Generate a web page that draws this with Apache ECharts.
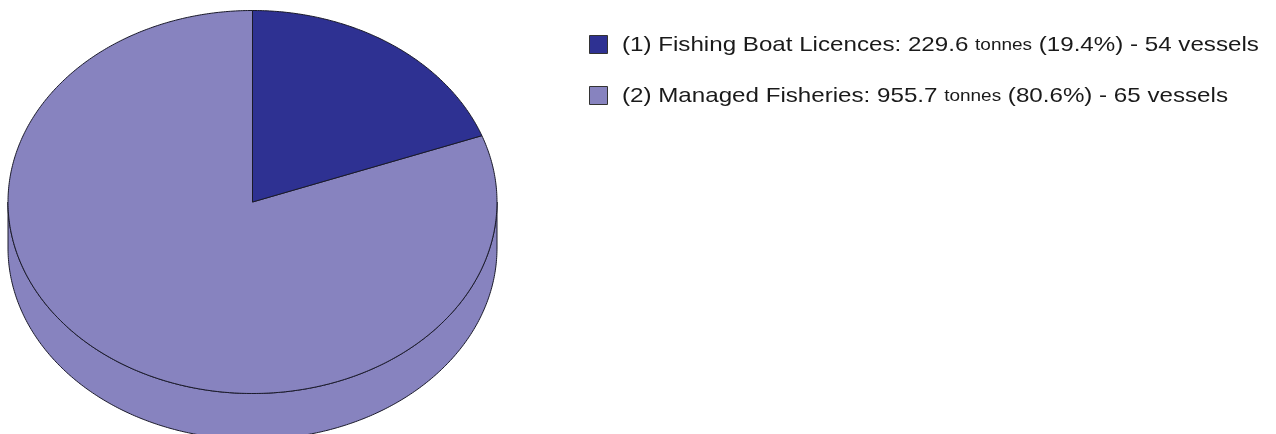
<!DOCTYPE html>
<html>
<head>
<meta charset="utf-8">
<script src="https://cdn.jsdelivr.net/npm/echarts@6/dist/echarts.min.js"></script>
<style>
html,body{margin:0;padding:0;background:#fff;}
#chart{width:1276px;height:434px;}
</style>
</head>
<body>
<div id="chart"></div>
<script>
const categories = ['(1) Fishing Boat Licences', '(2) Managed Fisheries'];
const tonnes = [229.6, 955.7];
const percents = [19.4, 80.6];
const vessels = [54, 65];
const colors = ['#2E3192', '#8783BF'];

const total = tonnes.reduce((a, b) => a + b, 0);
const starts = [];
let acc = 0;
tonnes.forEach(v => { starts.push(acc / total * Math.PI * 2); acc += v; });

const CX = 252.5, CY = 202, RX = 244.5, RY = 191.5, DEPTH = 46;
function pt(t, dy) { return [CX + RX * Math.sin(t), CY - RY * Math.cos(t) + (dy || 0)]; }
function arcPts(a, b, dy) {
  const n = Math.max(2, Math.ceil(Math.abs(b - a) / 0.01));
  const out = [];
  for (let k = 0; k <= n; k++) out.push(pt(a + (b - a) * k / n, dy));
  return out;
}

function makeSeries(i) {
  return {
    type: 'custom',
    name: categories[i],
    coordinateSystem: 'none',
    itemStyle: { color: colors[i], borderColor: '#222', borderWidth: 1 },
    data: [[tonnes[i]]],
    renderItem: function (params, api) {
      const a = starts[i];
      const b = a + tonnes[i] / total * Math.PI * 2;
      const children = [];
      const style = { fill: colors[i], stroke: '#1a1a2a', lineWidth: 1 };
      const sa = Math.max(a, Math.PI / 2), sb = Math.min(b, Math.PI * 1.5);
      if (sb > sa) {
        const top = arcPts(sa, sb, 0);
        const bot = arcPts(sb, sa, DEPTH);
        children.push({ type: 'polygon', shape: { points: top.concat(bot) }, style: style });
      }
      const face = [[CX, CY]].concat(arcPts(a, b, 0));
      children.push({ type: 'polygon', shape: { points: face }, style: style });
      return { type: 'group', children: children };
    }
  };
}

const FONT = 'Liberation Sans, Arial, Helvetica, sans-serif';
const legendEls = [];
categories.forEach(function (name, i) {
  const yc = 45 + i * 51;
  legendEls.push({
    type: 'rect',
    shape: { x: 589.5, y: yc - 9.5, width: 18, height: 18 },
    style: { fill: colors[i], stroke: '#333', lineWidth: 1 }
  });
  legendEls.push({
    type: 'text',
    x: 622, y: yc,
    scaleX: 1.15,
    style: {
      text: '{m|' + name + ': ' + tonnes[i] + ' }{s|tonnes}{m| (' + percents[i] + '%) - ' + vessels[i] + ' vessels}',
      font: '21px ' + FONT,
      fill: '#1a1a1a',
      verticalAlign: 'middle',
      align: 'left',
      rich: {
        m: { fontSize: 21, fontFamily: FONT, fill: '#1a1a1a', verticalAlign: 'bottom' },
        s: { fontSize: 16.5, fontFamily: FONT, fill: '#1a1a1a', verticalAlign: 'bottom', padding: [0, 0, 1.5, 0] }
      }
    }
  });
});

const chart = echarts.init(document.getElementById('chart'), null, { renderer: 'canvas' });
chart.setOption({
  animation: false,
  backgroundColor: '#ffffff',
  graphic: legendEls,
  series: [makeSeries(1), makeSeries(0)]
});
</script>
</body>
</html>
